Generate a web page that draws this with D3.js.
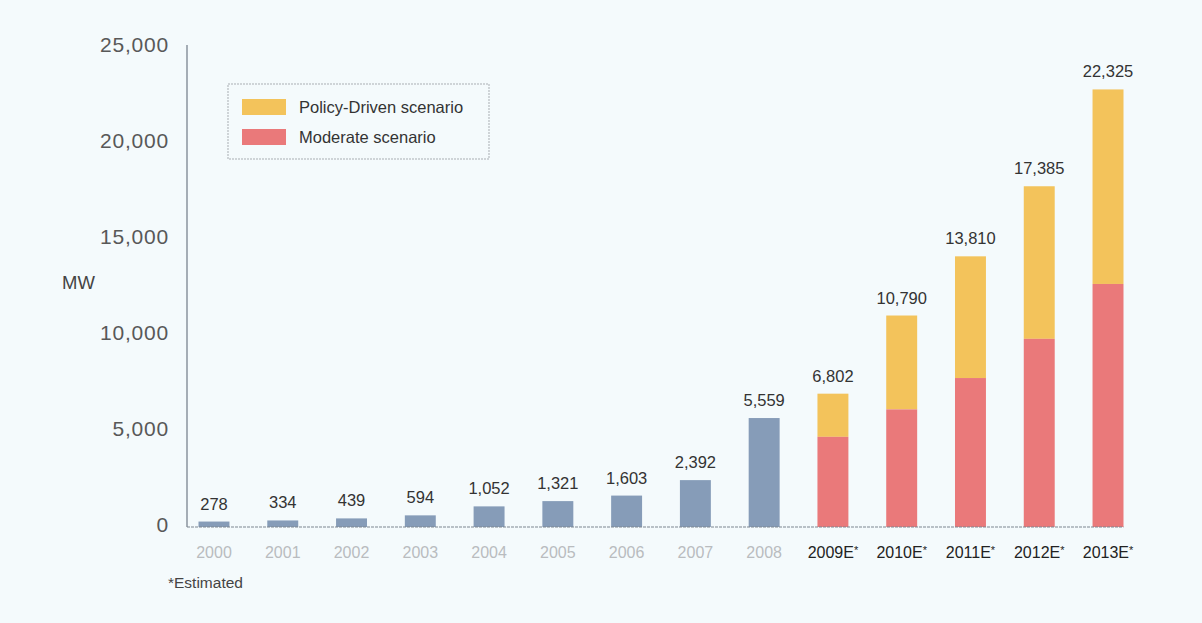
<!DOCTYPE html>
<html>
<head>
<meta charset="utf-8">
<script src="https://cdn.jsdelivr.net/npm/d3@7"></script>
<style>
  html, body { margin: 0; padding: 0; background: #f4fafc; }
  svg { display: block; font-family: "Liberation Sans", Arial, Helvetica, sans-serif; }
</style>
</head>
<body>
<svg id="chart" width="1202" height="623"></svg>
<script>
// ---- data ----
const categories = ["2000","2001","2002","2003","2004","2005","2006","2007","2008","2009E*","2010E*","2011E*","2012E*","2013E*"];
const historical = [278, 334, 439, 594, 1052, 1321, 1603, 2392, 5559, null, null, null, null, null];
const moderate   = [null, null, null, null, null, null, null, null, null, 4600, 6000, 7600, 9600, 12400];
const policyTotal = [null, null, null, null, null, null, null, null, null, 6802, 10790, 13810, 17385, 22325];
const yTicks = [0, 5000, 10000, 15000, 20000, 25000];
const legendLabels = ["Policy-Driven scenario", "Moderate scenario"];

const colors = { hist: "#869cb8", policy: "#f3c35b", moderate: "#ea797a" };

const svg = d3.select("#chart");
svg.append("rect").attr("width", 1202).attr("height", 623).attr("fill", "#f4fafc");

const x = d3.scaleBand().domain(categories).range([179.6, 1142.4]).paddingInner(0.55).paddingOuter(0.275);
const y = d3.scaleLinear().domain([0, 25000]).range([527, 37]);
const fmt = d3.format(",");

// axis line
svg.append("line").attr("x1", 187).attr("x2", 187).attr("y1", 45).attr("y2", y(0))
  .attr("stroke", "#6f7a86").attr("stroke-width", 1.2);

// y tick labels (the scanned labels sit slightly off the bar scale)
svg.append("g").selectAll("text").data(yTicks).join("text")
  .attr("x", 169).attr("y", d => y(d) - 2 + d/25000*10)
  .attr("dy", "0.35em").attr("text-anchor", "end")
  .attr("font-size", 21).attr("letter-spacing", 0.8).attr("fill", "#585858").text(d => fmt(d));

svg.append("text").attr("x", 62).attr("y", 283).attr("dy", "0.35em")
  .attr("font-size", 18.5).attr("fill", "#444").text("MW");

const idx = d3.range(categories.length);

// historical bars
svg.append("g").selectAll("rect").data(idx.filter(i => historical[i] != null)).join("rect")
  .attr("x", i => x(categories[i])).attr("width", x.bandwidth())
  .attr("y", i => y(historical[i])).attr("height", i => y(0) - y(historical[i]))
  .attr("fill", colors.hist);

// policy (total) bars
svg.append("g").selectAll("rect").data(idx.filter(i => policyTotal[i] != null)).join("rect")
  .attr("x", i => x(categories[i])).attr("width", x.bandwidth())
  .attr("y", i => y(policyTotal[i])).attr("height", i => y(moderate[i]) - y(policyTotal[i]))
  .attr("fill", colors.policy);

// moderate bars
svg.append("g").selectAll("rect").data(idx.filter(i => moderate[i] != null)).join("rect")
  .attr("x", i => x(categories[i])).attr("width", x.bandwidth())
  .attr("y", i => y(moderate[i])).attr("height", i => y(0) - y(moderate[i]))
  .attr("fill", colors.moderate);

// baseline
svg.append("line").attr("x1", 187).attr("x2", x(categories[categories.length-1]) + x.bandwidth())
  .attr("y1", y(0)).attr("y2", y(0))
  .attr("stroke", "#7d8690").attr("stroke-width", 1).attr("stroke-dasharray", "3,1");

// value labels
svg.append("g").selectAll("text").data(idx).join("text")
  .attr("x", i => x(categories[i]) + x.bandwidth()/2)
  .attr("y", i => y(historical[i] != null ? historical[i] : policyTotal[i]) - 12)
  .attr("text-anchor", "middle").attr("font-size", 16.5).attr("fill", "#333")
  .text(i => fmt(historical[i] != null ? historical[i] : policyTotal[i]));

// x labels
const xl = svg.append("g").selectAll("text").data(idx).join("text")
  .attr("x", i => x(categories[i]) + x.bandwidth()/2)
  .attr("y", 558)
  .attr("text-anchor", "middle").attr("font-size", 16)
  .attr("fill", i => historical[i] != null ? "#b9bcbf" : "#222");
xl.each(function(i) {
  const t = d3.select(this);
  const c = categories[i];
  if (c.endsWith("*")) {
    t.append("tspan").text(c.slice(0, -1));
    t.append("tspan").attr("font-size", 11).attr("dy", -4).text("*");
  } else {
    t.text(c);
  }
});

svg.append("text").attr("x", 168).attr("y", 588).attr("font-size", 15.5).attr("fill", "#444").text("*Estimated");

// legend
const lg = svg.append("g");
lg.append("rect").attr("x", 228).attr("y", 84).attr("width", 261).attr("height", 75)
  .attr("fill", "none").attr("stroke", "#a9aeb3").attr("stroke-width", 1).attr("stroke-dasharray", "2,1");
const legendColors = [colors.policy, colors.moderate];
legendLabels.forEach((lab, k) => {
  lg.append("rect").attr("x", 242).attr("y", 99 + k*30).attr("width", 44).attr("height", 16).attr("fill", legendColors[k]);
  lg.append("text").attr("x", 299).attr("y", 107 + k*30).attr("dy", "0.35em")
    .attr("font-size", 16.5).attr("fill", "#333").text(lab);
});
</script>
</body>
</html>
